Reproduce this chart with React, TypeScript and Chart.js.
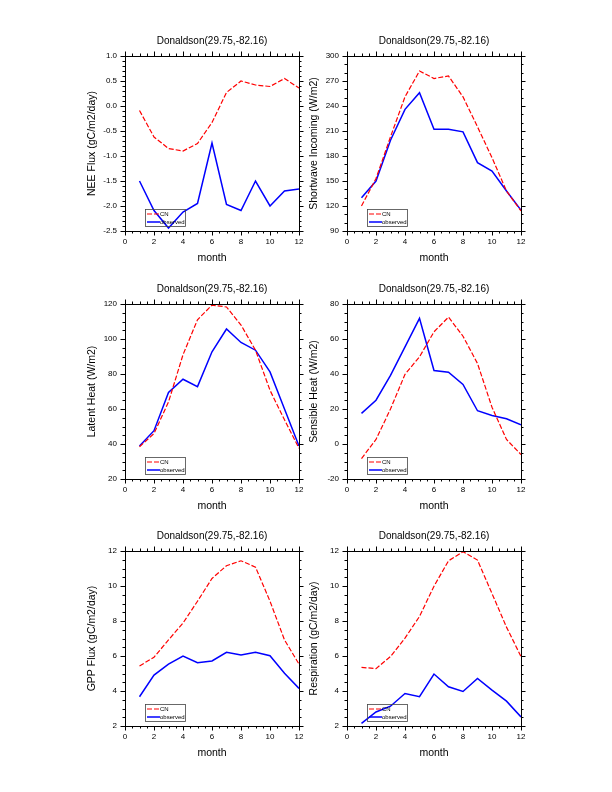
import React, { useEffect, useRef } from "react";
import { Chart, registerables } from "chart.js";

Chart.register(...registerables);

// ---------- data ----------
const months = [1, 2, 3, 4, 5, 6, 7, 8, 9, 10, 11, 12];
const titleText = "Donaldson(29.75,-82.16)";
const xTitle = "month";
const seriesNames = ["CN", "observed"];
const xTicks = [0, 2, 4, 6, 8, 10, 12];

const neeCN = [-0.09, -0.62, -0.85, -0.9, -0.75, -0.33, 0.27, 0.5, 0.42, 0.39, 0.55, 0.36];
const neeObs = [-1.5, -2.09, -2.44, -2.12, -1.95, -0.74, -1.97, -2.09, -1.5, -2.0, -1.7, -1.66];

const swCN = [120, 153, 203, 251, 282, 273, 276, 251, 215, 178, 138, 114];
const swObs = [130, 150, 199, 236, 256, 212, 212, 209, 172, 162, 138, 115];

const lhCN = [38.4, 46, 64, 91, 111, 119.4, 118.3, 108, 93.6, 70.7, 53.8, 37.6];
const lhObs = [38.8, 47.6, 69.4, 77, 72.8, 92.7, 105.7, 98, 93.6, 81.2, 60, 38.8];

const shCN = [-8.3, 2.6, 20, 39.8, 49.8, 64.1, 72.5, 61.6, 46, 21, 2.6, -6];
const shObs = [17.5, 25, 39.2, 55.5, 71.8, 42, 41, 34, 19, 16.3, 14.4, 11];

const gppCN = [5.43, 5.93, 6.92, 7.88, 9.13, 10.43, 11.16, 11.44, 11.08, 9.13, 6.92, 5.54];
const gppObs = [3.67, 4.91, 5.54, 6.0, 5.62, 5.72, 6.21, 6.06, 6.21, 6.02, 5.01, 4.15];

const resCN = [5.35, 5.28, 5.97, 7.02, 8.26, 9.99, 11.44, 11.96, 11.48, 9.57, 7.65, 5.97];
const resObs = [2.15, 2.8, 3.13, 3.86, 3.67, 4.97, 4.24, 3.97, 4.72, 4.05, 3.42, 2.52];

const yTitles = [
  "NEE Flux (gC/m2/day)",
  "Shortwave Incoming (W/m2)",
  "Latent Heat (W/m2)",
  "Sensible Heat (W/m2)",
  "GPP Flux (gC/m2/day)",
  "Respiration (gC/m2/day)",
];

// y axis ranges: [min, max, majorStep, minorStep, decimals]
const yRanges: [number, number, number, number, number][] = [
  [-2.5, 1.0, 0.5, 0.1, 1],
  [90, 300, 30, 10, 0],
  [20, 120, 20, 5, 0],
  [-20, 80, 20, 5, 0],
  [2, 12, 2, 0.5, 0],
  [2, 12, 2, 0.5, 0],
];

const cnSeries = [neeCN, swCN, lhCN, shCN, gppCN, resCN];
const obsSeries = [neeObs, swObs, lhObs, shObs, gppObs, resObs];

// ---------- layout ----------
const FONT = "'Liberation Sans', Arial, Helvetica, sans-serif";
const plotBoxes = [
  { left: 125, top: 56, w: 174, h: 175 },
  { left: 347, top: 56, w: 174, h: 175 },
  { left: 125, top: 304, w: 174, h: 175 },
  { left: 347, top: 304, w: 174, h: 175 },
  { left: 125, top: 551, w: 174, h: 175 },
  { left: 347, top: 551, w: 174, h: 175 },
];
const PAD_L = 60;
const PAD_T = 30;
const PAD_R = 15;
const PAD_B = 40;

function drawTicks(
  ctx: CanvasRenderingContext2D,
  scale: any,
  min: number,
  max: number,
  major: number,
  minor: number,
  horizontal: boolean,
  area: any
) {
  const n = Math.round((max - min) / minor);
  const every = Math.round(major / minor);
  for (let i = 0; i <= n; i++) {
    const v = min + i * minor;
    const len = i % every === 0 ? 4.5 : 2.5;
    const p = Math.round(scale.getPixelForValue(v)) + 0.5;
    ctx.beginPath();
    if (horizontal) {
      ctx.moveTo(p, area.bottom);
      ctx.lineTo(p, area.bottom + len);
      ctx.moveTo(p, area.top);
      ctx.lineTo(p, area.top - len);
    } else {
      ctx.moveTo(area.left, p);
      ctx.lineTo(area.left - len, p);
      ctx.moveTo(area.right, p);
      ctx.lineTo(area.right + len, p);
    }
    ctx.stroke();
  }
}

const nclPlugin = {
  id: "nclFrame",
  afterDraw(chart: any, _args: any, opts: any) {
    const ctx: CanvasRenderingContext2D = chart.ctx;
    const a = chart.chartArea;
    const [ymin, ymax, ymaj, ymin2, dec] = opts.range;
    const xs = chart.scales.x;
    const ys = chart.scales.y;
    ctx.save();
    ctx.strokeStyle = "#000";
    ctx.lineWidth = 1;
    ctx.strokeRect(Math.round(a.left) + 0.5, Math.round(a.top) + 0.5, Math.round(a.right - a.left), Math.round(a.bottom - a.top));
    drawTicks(ctx, xs, 0, 12, 2, 0.5, true, a);
    drawTicks(ctx, ys, ymin, ymax, ymaj, ymin2, false, a);

    // tick labels
    ctx.fillStyle = "#000";
    ctx.font = `8px ${FONT}`;
    ctx.textAlign = "center";
    ctx.textBaseline = "middle";
    xTicks.forEach((v) => ctx.fillText(String(v), xs.getPixelForValue(v), a.bottom + 11));
    ctx.textAlign = "right";
    const ny = Math.round((ymax - ymin) / ymaj);
    for (let i = 0; i <= ny; i++) {
      const v = ymin + i * ymaj;
      ctx.fillText(v.toFixed(dec), a.left - 8, ys.getPixelForValue(v));
    }

    // titles
    ctx.textAlign = "center";
    ctx.textBaseline = "middle";
    ctx.font = `10px ${FONT}`;
    const cx = (a.left + a.right) / 2;
    ctx.fillText(titleText, cx, a.top - 15);
    ctx.font = `10.5px ${FONT}`;
    ctx.fillText(xTitle, cx, a.bottom + 27);
    ctx.save();
    ctx.translate(a.left - 33, (a.top + a.bottom) / 2);
    ctx.rotate(-Math.PI / 2);
    ctx.fillText(opts.yTitle, 0, 0);
    ctx.restore();

    // legend box
    const bx = a.left + 20;
    const by = a.bottom - 22;
    ctx.strokeStyle = "#444";
    ctx.lineWidth = 0.8;
    ctx.strokeRect(bx + 0.5, by + 0.5, 40, 17);
    const ds = chart.data.datasets;
    ds.forEach((d: any, i: number) => {
      const ly = by + 5 + i * 8;
      ctx.beginPath();
      ctx.strokeStyle = d.borderColor;
      ctx.lineWidth = d.borderWidth;
      ctx.setLineDash(d.borderDash || []);
      ctx.moveTo(bx + 2, ly);
      ctx.lineTo(bx + 15, ly);
      ctx.stroke();
      ctx.setLineDash([]);
      ctx.fillStyle = "#000";
      ctx.font = `6px ${FONT}`;
      ctx.textAlign = "left";
      ctx.textBaseline = "middle";
      ctx.fillText(d.label, bx + 15, ly);
    });
    ctx.restore();
  },
};

function Panel({ idx }: { idx: number }) {
  const ref = useRef<HTMLCanvasElement>(null);
  const box = plotBoxes[idx];
  const W = box.w + PAD_L + PAD_R;
  const H = box.h + PAD_T + PAD_B;
  useEffect(() => {
    if (!ref.current) return;
    const [ymin, ymax, ystep] = yRanges[idx];
    const chart = new Chart(ref.current, {
      type: "line",
      data: {
        datasets: [
          {
            label: seriesNames[0],
            data: months.map((m, i) => ({ x: m, y: cnSeries[idx][i] })),
            borderColor: "#ff0000",
            borderWidth: 1.2,
            borderDash: [5, 2],
            pointRadius: 0,
            tension: 0,
          },
          {
            label: seriesNames[1],
            data: months.map((m, i) => ({ x: m, y: obsSeries[idx][i] })),
            borderColor: "#0000ff",
            borderWidth: 1.5,
            pointRadius: 0,
            tension: 0,
          },
        ],
      },
      options: {
        animation: false,
        responsive: false,
        maintainAspectRatio: false,
        layout: { padding: { top: PAD_T, right: PAD_R, left: 0, bottom: 0 } },
        plugins: {
          legend: { display: false },
          title: { display: false },
          tooltip: { enabled: false },
          nclFrame: { range: yRanges[idx], yTitle: yTitles[idx] },
        } as any,
        scales: {
          x: {
            type: "linear",
            min: 0,
            max: 12,
            grid: { display: false },
            border: { display: false },
            ticks: { display: false, stepSize: 2 },
            afterFit: (s: any) => {
              s.height = PAD_B;
            },
          },
          y: {
            type: "linear",
            min: ymin,
            max: ymax,
            grid: { display: false },
            border: { display: false },
            ticks: { display: false, stepSize: ystep },
            afterFit: (s: any) => {
              s.width = PAD_L;
            },
          },
        },
      },
      plugins: [nclPlugin],
    });
    return () => chart.destroy();
  }, [idx]);
  return (
    <canvas
      ref={ref}
      width={W}
      height={H}
      style={{
        position: "absolute",
        left: box.left - PAD_L,
        top: box.top - PAD_T,
        width: W,
        height: H,
      }}
    />
  );
}

export default function App() {
  return (
    <div style={{ position: "absolute", left: 0, top: 0, width: 612, height: 792, background: "#fff" }}>
      {plotBoxes.map((_, i) => (
        <Panel key={i} idx={i} />
      ))}
    </div>
  );
}
